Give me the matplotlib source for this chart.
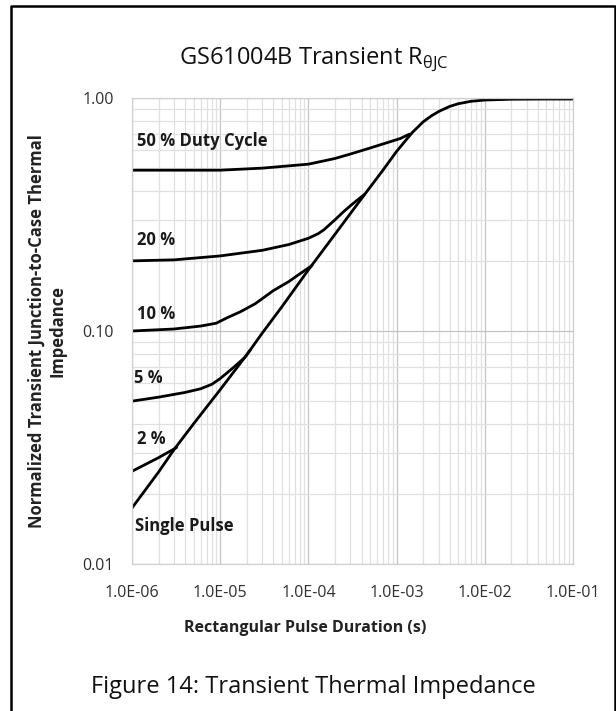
import matplotlib
matplotlib.use("Agg")
import matplotlib.pyplot as plt
from matplotlib.ticker import FixedLocator, FuncFormatter, LogLocator, NullFormatter
from matplotlib.lines import Line2D

plt.rcParams["font.family"] = "Open Sans"
plt.rcParams["mathtext.fontset"] = "custom"
plt.rcParams["mathtext.rm"] = "Open Sans"

# curves (pulse duration in s, normalized Z)
single_t = [1e-6, 2e-6, 3e-6, 5e-6, 1e-5, 2e-5, 3e-5, 5e-5, 1e-4, 2e-4, 4e-4, 7e-4,
            1e-3, 1.5e-3, 2e-3, 2.5e-3, 3e-3, 4e-3, 5e-3, 7e-3, 1e-2, 2e-2, 5e-2, 1e-1]
single_z = [0.0174, 0.0248, 0.031, 0.040, 0.056, 0.079, 0.098, 0.127, 0.183, 0.26, 0.37, 0.49,
            0.59, 0.71, 0.79, 0.84, 0.875, 0.92, 0.945, 0.968, 0.98, 0.988, 0.99, 0.99]

duty50_t = [1e-6, 1e-5, 3e-5, 1e-4, 2e-4, 3e-4, 5e-4, 8e-4, 1.1e-3, 1.4e-3]
duty50_z = [0.49, 0.49, 0.50, 0.52, 0.55, 0.575, 0.61, 0.645, 0.67, 0.70]

duty20_t = [1e-6, 3e-6, 1e-5, 3e-5, 6e-5, 1e-4, 1.3e-4, 1.5e-4, 2e-4, 2.5e-4, 3e-4, 3.5e-4, 4.3e-4]
duty20_z = [0.20, 0.202, 0.21, 0.222, 0.235, 0.25, 0.262, 0.272, 0.30, 0.325, 0.345, 0.362, 0.385]

duty10_t = [1e-6, 3e-6, 6e-6, 9e-6, 1.2e-5, 1.7e-5, 2.5e-5, 4e-5, 6e-5, 8e-5, 1.1e-4]
duty10_z = [0.100, 0.102, 0.105, 0.108, 0.114, 0.121, 0.131, 0.149, 0.163, 0.176, 0.191]

duty5_t = [1e-6, 2e-6, 4e-6, 6e-6, 8e-6, 1e-5, 1.4e-5, 1.9e-5, 2.2e-5]
duty5_z = [0.050, 0.052, 0.0545, 0.0565, 0.059, 0.0625, 0.0695, 0.077, 0.083]

duty2_t = [1e-6, 2e-6, 3.2e-6]
duty2_z = [0.025, 0.0286, 0.0316]

x_ticks = [1e-6, 1e-5, 1e-4, 1e-3, 1e-2, 1e-1]
y_ticks = [0.01, 0.1, 1.0]

fig = plt.figure(figsize=(6.16, 7.11), dpi=100)
ax = fig.add_axes([132 / 616, 1 - 564 / 711, 441 / 616, 466 / 711])

for t, z in [(single_t, single_z), (duty50_t, duty50_z), (duty20_t, duty20_z),
             (duty10_t, duty10_z), (duty5_t, duty5_z), (duty2_t, duty2_z)]:
    ax.plot(t, z, color="black", lw=2.0, solid_capstyle="round")

ax.set_xscale("log")
ax.set_yscale("log")
ax.set_xlim(1e-6, 1e-1)
ax.set_ylim(0.01, 1.0)

ax.xaxis.set_major_locator(FixedLocator(x_ticks))
ax.yaxis.set_major_locator(FixedLocator(y_ticks))
ax.xaxis.set_minor_locator(LogLocator(base=10, subs=range(2, 10), numticks=20))
ax.yaxis.set_minor_locator(LogLocator(base=10, subs=range(2, 10), numticks=20))
ax.xaxis.set_minor_formatter(NullFormatter())
ax.yaxis.set_minor_formatter(NullFormatter())
ax.xaxis.set_major_formatter(FuncFormatter(lambda v, p: "%.1E" % v))
ax.yaxis.set_major_formatter(FuncFormatter(lambda v, p: "%.2f" % v))

ax.grid(True, which="major", color="#c4c4c4", lw=0.9)
ax.grid(True, which="minor", color="#e0e0e0", lw=0.9)
ax.set_axisbelow(True)
ax.tick_params(which="both", length=0)
ax.tick_params(axis="x", pad=15, labelsize=11.5, labelcolor="#303030")
ax.tick_params(axis="y", pad=13, labelsize=11.5, labelcolor="#303030")
for s in ax.spines.values():
    s.set_color("#d0d0d0")
    s.set_linewidth(0.9)

# curve labels
lab = dict(fontsize=12, fontweight="bold", color="#1a1a1a", va="center", ha="left")
ax.text(1.15e-6, 10 ** ((98 - 141) / 233), "50 % Duty Cycle", **lab)
ax.text(1.15e-6, 10 ** ((98 - 240) / 233), "20 %", **lab)
ax.text(1.15e-6, 10 ** ((98 - 314) / 233), "10 %", **lab)
ax.text(1.05e-6, 10 ** ((98 - 378) / 233), "5 %", **lab)
ax.text(1.15e-6, 10 ** ((98 - 439) / 233), "2 %", **lab)
ax.text(1.07e-6, 10 ** ((98 - 526) / 233), "Single Pulse", **lab)

fig.text(314 / 616, 1 - 60 / 711, r"GS61004B Transient R$_\mathregular{θJC}$",
         ha="center", va="center", fontsize=17, color="#111111")
fig.text(305 / 616, 1 - 628 / 711, "Rectangular Pulse Duration (s)",
         ha="center", va="center", fontsize=11.5, fontweight="bold", color="#222222")
fig.text(47 / 616, 1 - 331 / 711, "Normalized Transient Junction-to-Case Thermal\nImpedance",
         ha="center", va="center", rotation=90, fontsize=12, fontweight="bold",
         color="#222222", linespacing=1.25)
fig.text(313 / 616, 1 - 687 / 711, "Figure 14: Transient Thermal Impedance",
         ha="center", va="center", fontsize=17, color="#111111")

# outer frame (bottom edge is cut off in the source)
frame = Line2D([11 / 616, 11 / 616, 614.5 / 616, 614.5 / 616],
               [-0.01, 1 - 6 / 711, 1 - 6 / 711, -0.01],
               transform=fig.transFigure, color="black", lw=1.8)
fig.add_artist(frame)

fig.savefig("out.png", dpi=100)
